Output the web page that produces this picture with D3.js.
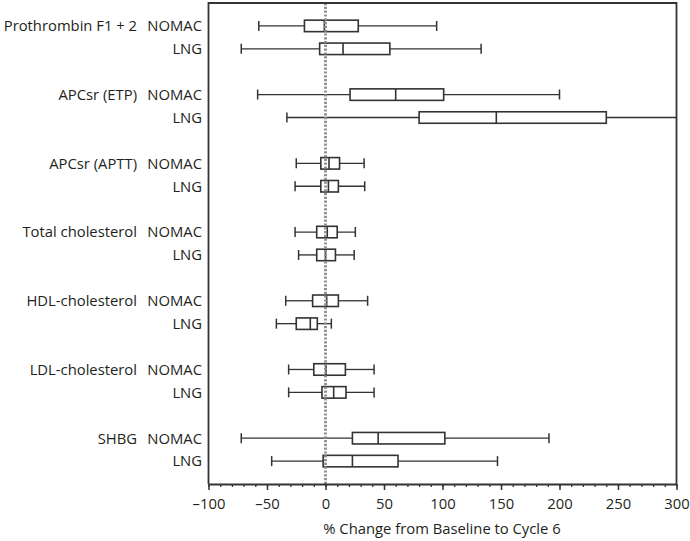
<!DOCTYPE html>
<html>
<head>
<meta charset="utf-8">
<script src="https://cdn.jsdelivr.net/npm/d3@7"></script>
<style>
  html, body { margin: 0; padding: 0; background: #fff; }
  svg text { font-family: "Open Sans", "Noto Sans", sans-serif; fill: #231f20; }
</style>
</head>
<body>
<svg id="chart" width="690" height="541"></svg>
<script>
// ---- Data ----
const categories = ["Prothrombin F1 + 2", "APCsr (ETP)", "APCsr (APTT)", "Total cholesterol",
                    "HDL-cholesterol", "LDL-cholesterol", "SHBG"];
const groups = ["NOMAC", "LNG"];
// [min, Q1, median, Q3, max] for each category
const nomacStats = [
  [-57, -18, -1, 28, 95],
  [-58, 21, 60, 101, 200],
  [-25, -4, 3, 12, 33],
  [-26, -7.5, 1.5, 10, 25.5],
  [-34, -11, 1, 11, 36],
  [-31.5, -10, 0.5, 17, 41.5],
  [-72, 23, 45, 102, 191]
];
const lngStats = [
  [-72, -5, 15, 55, 133],
  [-33, 80, 146, 240, 320],
  [-26, -4, 2.5, 11, 33.5],
  [-23, -7.5, 0, 8.5, 24.5],
  [-42, -25, -13, -7, 5],
  [-31.5, -3, 7, 17.5, 41.5],
  [-46, -2, 23, 62, 147]
];
const xTicks = [-100, -50, 0, 50, 100, 150, 200, 250, 300];
const xMinorTicks = d3.range(-100, 301, 10);
const xTitle = "% Change from Baseline to Cycle 6";

// ---- Layout ----
const svg = d3.select("#chart");
const pL = 208.5, pR = 676.5, pT = 3, pB = 484;
const ink = "#333";
const fs = 14.8;

const x = d3.scaleLinear().domain([-100, 300]).range([pL, pR]);
const yBand = d3.scaleBand().domain(categories).range([pT, pB]).padding(0);
const yInner = d3.scalePoint().domain(groups).range([yBand.bandwidth() / 3, 2 * yBand.bandwidth() / 3]);

const rows = [];
categories.forEach((c, i) => {
  rows.push({cat: c, grp: "NOMAC", s: nomacStats[i]});
  rows.push({cat: c, grp: "LNG", s: lngStats[i]});
});
const yPos = d => yBand(d.cat) + yInner(d.grp);

svg.append("defs").append("clipPath").attr("id", "plotclip")
  .append("rect").attr("x", pL).attr("y", pT).attr("width", pR - pL).attr("height", pB - pT);

const plot = svg.append("g").attr("clip-path", "url(#plotclip)");
const boxH = 11.5, capH = 10;

const g = plot.selectAll("g.row").data(rows).enter().append("g").attr("class", "row");
// whiskers
g.append("line")
  .attr("x1", d => x(d.s[0])).attr("x2", d => x(d.s[1]))
  .attr("y1", yPos).attr("y2", yPos)
  .attr("stroke", ink).attr("stroke-width", 1.3);
g.append("line")
  .attr("x1", d => x(d.s[3])).attr("x2", d => x(d.s[4]))
  .attr("y1", yPos).attr("y2", yPos)
  .attr("stroke", ink).attr("stroke-width", 1.3);
// caps
g.append("line")
  .attr("x1", d => x(d.s[0])).attr("x2", d => x(d.s[0]))
  .attr("y1", d => yPos(d) - capH / 2).attr("y2", d => yPos(d) + capH / 2)
  .attr("stroke", ink).attr("stroke-width", 1.5);
g.append("line")
  .attr("x1", d => x(d.s[4])).attr("x2", d => x(d.s[4]))
  .attr("y1", d => yPos(d) - capH / 2).attr("y2", d => yPos(d) + capH / 2)
  .attr("stroke", ink).attr("stroke-width", 1.5);
// box
g.append("rect")
  .attr("x", d => x(d.s[1])).attr("width", d => x(d.s[3]) - x(d.s[1]))
  .attr("y", d => yPos(d) - boxH / 2).attr("height", boxH)
  .attr("fill", "none").attr("stroke", ink).attr("stroke-width", 1.6);
// median
g.append("line")
  .attr("x1", d => x(d.s[2])).attr("x2", d => x(d.s[2]))
  .attr("y1", d => yPos(d) - boxH / 2).attr("y2", d => yPos(d) + boxH / 2)
  .attr("stroke", ink).attr("stroke-width", 1.6);

// zero reference line (dotted)
svg.append("line")
  .attr("x1", x(0)).attr("x2", x(0)).attr("y1", pT).attr("y2", pB)
  .attr("stroke", "#8c8c8c").attr("stroke-width", 2.8)
  .attr("stroke-dasharray", "2.2,1.6");

// frame (top, left, right)
svg.append("path")
  .attr("d", `M${pL},${pB}V${pT}H${pR}V${pB}`)
  .attr("fill", "none").attr("stroke", ink).attr("stroke-width", 1.8);

// x axis
const fmt = d => d < 0 ? "\u2013" + Math.abs(d) : String(d);
const axisMinor = svg.append("g").attr("transform", `translate(0,${pB})`)
  .call(d3.axisBottom(x).tickValues(xMinorTicks).tickSize(3).tickFormat(""));
axisMinor.select(".domain").remove();
axisMinor.selectAll("line").attr("stroke", ink).attr("stroke-width", 1.3);

const axis = svg.append("g").attr("transform", `translate(0,${pB})`)
  .call(d3.axisBottom(x).tickValues(xTicks).tickSize(6).tickSizeOuter(0).tickPadding(8).tickFormat(fmt));
axis.select(".domain").attr("stroke", ink).attr("stroke-width", 1.8);
axis.selectAll(".tick line").attr("stroke", ink).attr("stroke-width", 1.5);
axis.selectAll(".tick text").attr("font-size", fs).attr("font-family", "\"Open Sans\", sans-serif").attr("fill", "#231f20");

svg.append("text")
  .attr("x", 442).attr("y", 534)
  .attr("text-anchor", "middle").attr("font-size", fs)
  .text(xTitle);

// row labels
const labelGroup = svg.append("g");
rows.forEach(d => {
  labelGroup.append("text")
    .attr("x", 202).attr("y", yPos(d)).attr("dy", "0.36em")
    .attr("text-anchor", "end").attr("font-size", fs).text(d.grp);
});
categories.forEach(c => {
  labelGroup.append("text")
    .attr("x", 137).attr("y", yBand(c) + yInner("NOMAC")).attr("dy", "0.36em")
    .attr("text-anchor", "end").attr("font-size", fs).text(c);
});
</script>
</body>
</html>
